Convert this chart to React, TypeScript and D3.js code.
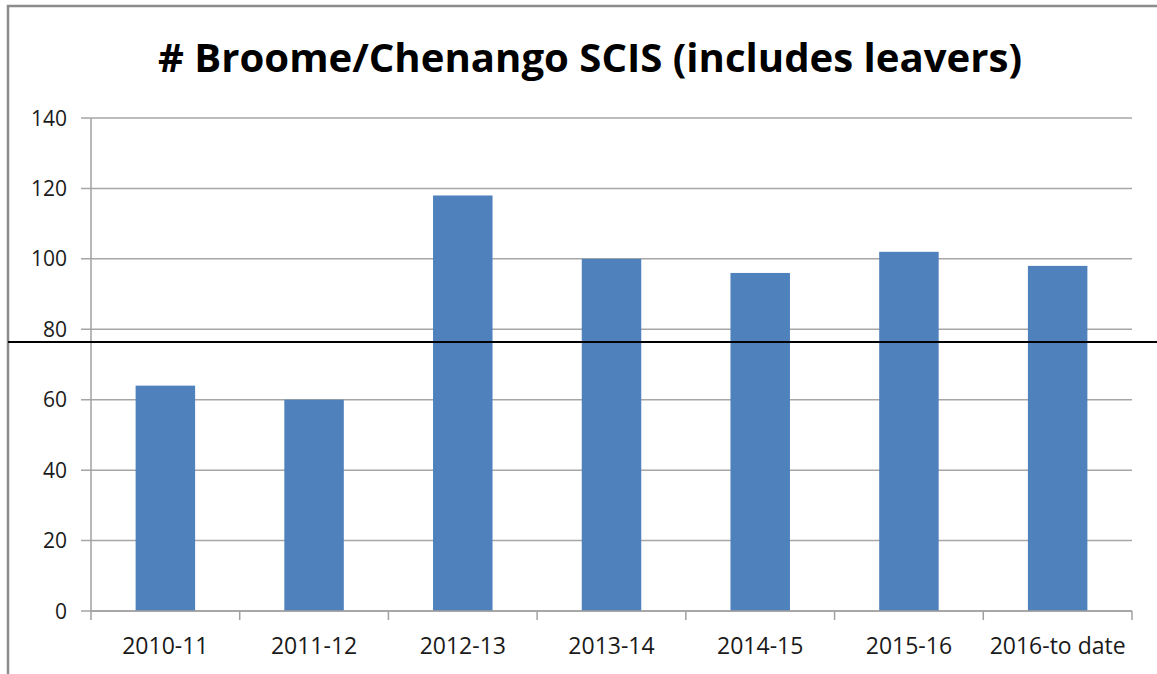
import React from 'react'
import * as d3 from 'd3'

const categories = ['2010-11', '2011-12', '2012-13', '2013-14', '2014-15', '2015-16', '2016-to date']
const counts = [64, 60, 118, 100, 96, 102, 98]
const yTicks = [0, 20, 40, 60, 80, 100, 120, 140]
const markerLine = [76.4]
const title = '# Broome/Chenango SCIS (includes leavers)'

const App = () => {
  const width = 1157
  const height = 674
  const plot = { left: 91, right: 1132, top: 118, bottom: 611 }

  const xScale = d3
    .scaleBand<string>()
    .domain(categories)
    .range([plot.left, plot.right])
    .paddingInner(0.6)
    .paddingOuter(0.3)

  const yScale = d3.scaleLinear().domain([0, 140]).range([plot.bottom, plot.top])

  const step = xScale.step()
  const font = '"Open Sans", sans-serif'

  return (
    <svg
      width={width}
      height={height}
      style={{ position: 'absolute', left: 0, top: 0, background: '#fff' }}
    >
      {/* outer frame, cut off at right and bottom */}
      <path d={`M8,${height} L8,6 L${width},6`} fill="none" stroke="#8c8c8c" strokeWidth={2.5} />

      <text
        x={590}
        y={72}
        textAnchor="middle"
        fontFamily={font}
        fontWeight="bold"
        fontSize={40}
        textLength={864}
        lengthAdjust="spacingAndGlyphs"
        fill="#000"
      >
        {title}
      </text>

      {/* grid lines */}
      {yTicks.map(t => (
        <line
          key={'g' + t}
          x1={plot.left - 10}
          x2={plot.right}
          y1={yScale(t)}
          y2={yScale(t)}
          stroke="#a6a6a6"
          strokeWidth={1.5}
        />
      ))}
      {yTicks.map(t => (
        <text
          key={'l' + t}
          x={67}
          y={yScale(t)}
          dy="0.36em"
          textAnchor="end"
          fontFamily={font}
          fontSize={21}
          fill="#1a1a1a"
        >
          {t}
        </text>
      ))}

      {/* axes */}
      <line x1={plot.left} x2={plot.left} y1={plot.top} y2={plot.bottom + 9} stroke="#a0a0a0" strokeWidth={1.5} />
      {categories.map((c, i) => (
        <line
          key={'t' + c}
          x1={plot.left + step * (i + 1)}
          x2={plot.left + step * (i + 1)}
          y1={plot.bottom}
          y2={plot.bottom + 9}
          stroke="#a0a0a0"
          strokeWidth={1.5}
        />
      ))}

      {/* bars */}
      {categories.map((c, i) => (
        <rect
          key={'b' + c}
          x={xScale(c)}
          y={yScale(counts[i])}
          width={xScale.bandwidth()}
          height={yScale(0) - yScale(counts[i])}
          fill="#4f81bd"
        />
      ))}
      <line x1={plot.left} x2={plot.right} y1={plot.bottom} y2={plot.bottom} stroke="#a0a0a0" strokeWidth={1.5} />

      {categories.map(c => (
        <text
          key={'x' + c}
          x={(xScale(c) as number) + xScale.bandwidth() / 2}
          y={654}
          textAnchor="middle"
          fontFamily={font}
          fontSize={23}
          fill="#1a1a1a"
        >
          {c}
        </text>
      ))}

      {/* horizontal black marker line */}
      {markerLine.map(v => (
        <line key={'m' + v} x1={8} x2={width} y1={yScale(v)} y2={yScale(v)} stroke="#000" strokeWidth={2} />
      ))}
    </svg>
  )
}

export default App
